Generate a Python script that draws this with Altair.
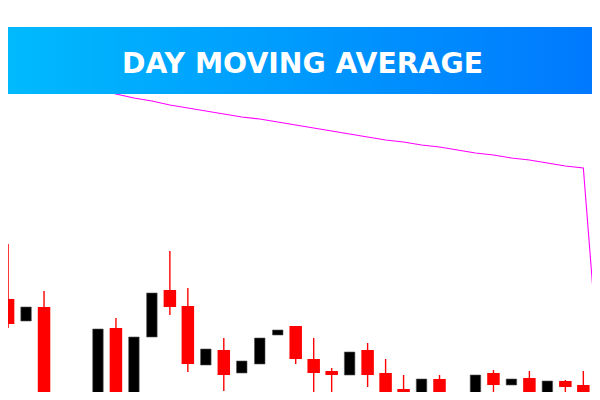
import altair as alt
import pandas as pd

# candle index, OHLC
idx = list(range(33))
opens = [1.0901, 1.0879, 1.0893, 1.0760, 1.0775, 1.0790, 1.0872, 1.0801, 1.0863, 1.0910,
         1.0894, 1.0835, 1.0850, 1.0827, 1.0836, 1.0865, 1.0874, 1.0841, 1.0829, 1.0825,
         1.0850, 1.0827, 1.0811, 1.0785, 1.0821, 1.0798, 1.0785, 1.0827, 1.0815, 1.0822,
         1.0785, 1.0819, 1.0815]
closes = [1.0876, 1.0893, 1.0770, 1.0785, 1.0795, 1.0871, 1.0801, 1.0863, 1.0907, 1.0893,
          1.0836, 1.0851, 1.0825, 1.0839, 1.0862, 1.0870, 1.0841, 1.0827, 1.0825, 1.0848,
          1.0825, 1.0808, 1.0785, 1.0821, 1.0785, 1.0780, 1.0825, 1.0815, 1.0821, 1.0785,
          1.0819, 1.0813, 1.0808]
highs = [1.0956, 1.0893, 1.0909, 1.0788, 1.0798, 1.0871, 1.0882, 1.0863, 1.0907, 1.0949,
         1.0912, 1.0851, 1.0862, 1.0839, 1.0862, 1.0870, 1.0874, 1.0862, 1.0832, 1.0848,
         1.0857, 1.0841, 1.0825, 1.0821, 1.0825, 1.0807, 1.0825, 1.0830, 1.0821, 1.0829,
         1.0819, 1.0820, 1.0829]
lows = [1.0872, 1.0879, 1.0760, 1.0755, 1.0770, 1.0785, 1.0795, 1.0801, 1.0863, 1.0885,
        1.0828, 1.0835, 1.0809, 1.0827, 1.0836, 1.0865, 1.0836, 1.0807, 1.0790, 1.0825,
        1.0813, 1.0790, 1.0780, 1.0780, 1.0780, 1.0775, 1.0785, 1.0806, 1.0815, 1.0780,
        1.0785, 1.0805, 1.0805]

# moving average line
ma_idx = list(range(34))
ma_vals = [1.1129, 1.1126, 1.1122, 1.1118, 1.1114, 1.1110, 1.1106, 1.1102, 1.1099, 1.1095,
           1.1092, 1.1089, 1.1086, 1.1083, 1.1081, 1.1078, 1.1075, 1.1072, 1.1069, 1.1066,
           1.1063, 1.1060, 1.1058, 1.1055, 1.1053, 1.1050, 1.1047, 1.1045, 1.1042, 1.1040,
           1.1037, 1.1034, 1.1032, 1.0804]

title_text = "DAY MOVING AVERAGE"

W, H = 584, 384

candles = pd.DataFrame({"i": idx, "open": opens, "close": closes, "high": highs, "low": lows})
ma = pd.DataFrame({"i": ma_idx, "ma": ma_vals})

xs = alt.Scale(domain=[0.2734, 32.204], nice=False, zero=False)
ys = alt.Scale(domain=[1.0808, 1.1192], nice=False, zero=False)

base = alt.Chart(candles)

wicks = base.transform_filter("datum.close < datum.open").mark_rule(
    color="#FF0000", strokeWidth=1.4, clip=True
).encode(
    x=alt.X("i:Q", scale=xs, axis=None),
    y=alt.Y("low:Q", scale=ys, axis=None),
    y2="high:Q",
)

red_bodies = base.transform_filter("datum.close < datum.open").mark_bar(
    color="#FF0000", size=12.5, clip=True
).encode(
    x=alt.X("i:Q", scale=xs, axis=None),
    y=alt.Y("open:Q", scale=ys, axis=None),
    y2="close:Q",
)

black_bodies = base.transform_filter("datum.close >= datum.open").mark_bar(
    color="#000000", size=10.5, clip=True, stroke="#555555", strokeWidth=0.6
).encode(
    x=alt.X("i:Q", scale=xs, axis=None),
    y=alt.Y("open:Q", scale=ys, axis=None),
    y2="close:Q",
)

ma_line = alt.Chart(ma).mark_line(color="#FF00FF", strokeWidth=1.1, clip=True).encode(
    x=alt.X("i:Q", scale=xs, axis=None),
    y=alt.Y("ma:Q", scale=ys, axis=None),
)

gradient = {
    "gradient": "linear",
    "x1": 0, "x2": 1, "y1": 0, "y2": 0,
    "stops": [
        {"offset": 0, "color": "#00BAFD"},
        {"offset": 1, "color": "#0079FE"},
    ],
}

banner = alt.Chart(pd.DataFrame({"a": [0]})).mark_rect(color=gradient).encode(
    x=alt.value(0), x2=alt.value(W), y=alt.value(19), y2=alt.value(86)
)

title = alt.Chart(pd.DataFrame({"t": [title_text]})).mark_text(
    color="white", font="DejaVu Sans", fontWeight="bold", fontSize=28.3,
    align="center", baseline="alphabetic"
).encode(text="t:N", x=alt.value(294.5), y=alt.value(65))

chart = alt.layer(ma_line, banner, title, wicks, red_bodies, black_bodies).properties(
    width=W, height=H, padding=0, autosize=alt.AutoSizeParams(type="none"),
    background="white",
).configure_view(stroke=None)

chart.save("out.html", embed_options={"renderer": "svg", "actions": False})
